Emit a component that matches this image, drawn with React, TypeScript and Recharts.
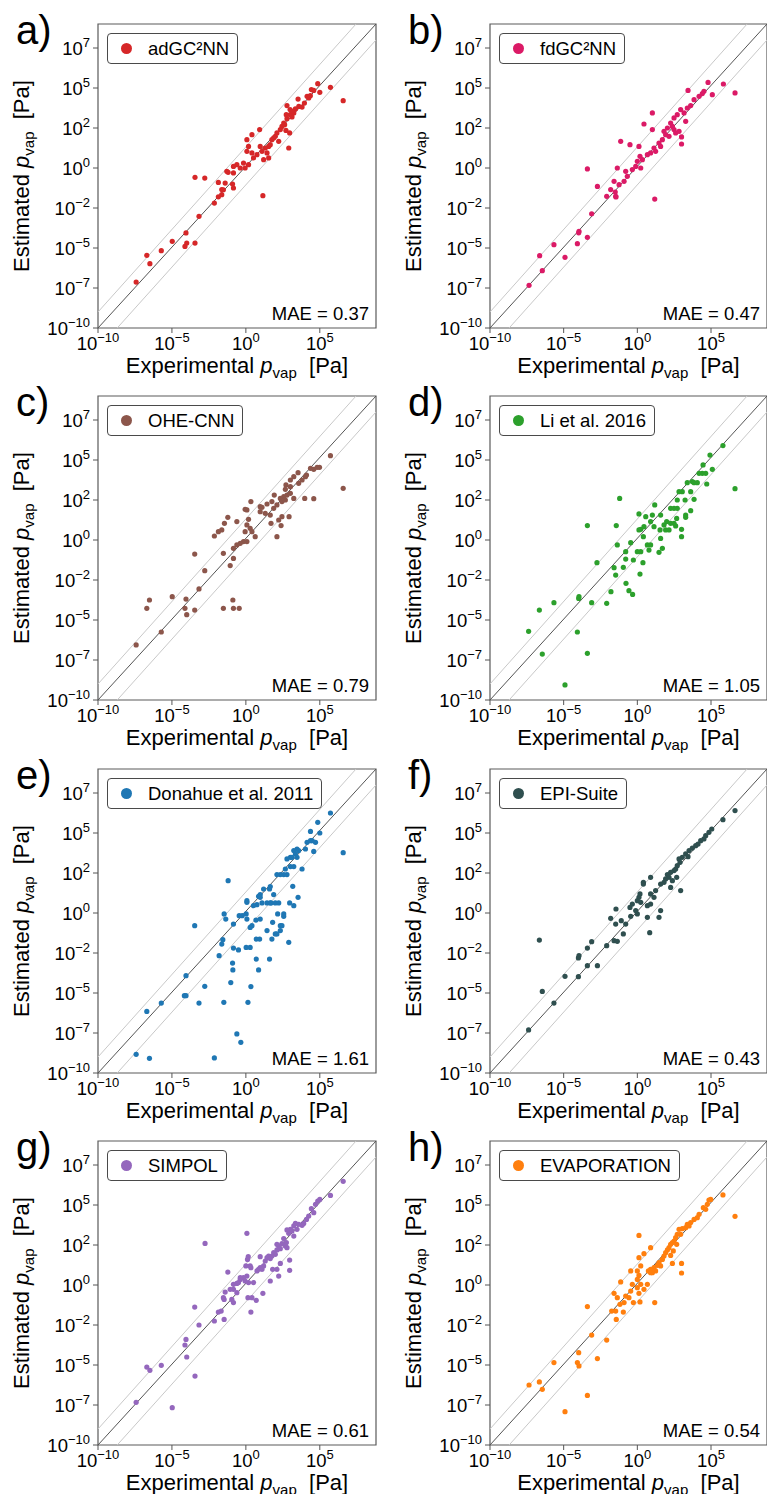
import React from 'react';
import { ScatterChart, Scatter, XAxis, YAxis, ReferenceLine, ReferenceArea } from 'recharts';

type Pair = [number, number];

const FONT = '"Liberation Sans", Arial, Helvetica, sans-serif';

// axes are in log10(p / Pa)
const xDomain = [-10, 8.8];
const yDomain = [-10, 9];
const xTicks = [-10, -5, 0, 5];
const yTicks = [-10, -7.5, -5, -2.5, 0, 2.5, 5, 7.5];

// parity line and the two grey band lines, as [x, y] end points
const parityLine: Pair[] = [[-10, -10], [8.8, 9]];
const upperBand: Pair[] = [[-10, -9], [7.45, 9]];
const lowerBand: Pair[] = [[-8.7, -10], [8.8, 8]];

const panelLetters = ['a)', 'b)', 'c)', 'd)', 'e)', 'f)', 'g)', 'h)'];
const modelNames = ['adGC²NN', 'fdGC²NN', 'OHE-CNN', 'Li et al. 2016', 'Donahue et al. 2011', 'EPI-Suite', 'SIMPOL', 'EVAPORATION'];
const modelColors = ['#d62728', '#db1a66', '#8c564b', '#2ca02c', '#1f77b4', '#2f4f4f', '#9467bd', '#ff7f0e'];
const maeValues = ['0.37', '0.47', '0.79', '1.05', '1.61', '0.43', '0.61', '0.54'];

const adgcnnPoints: Pair[] = [
  [4.86, 5.27], [5.72, 5.04], [6.58, 4.21], [4.43, 4.9], [5.0, 4.73], [4.14, 4.48], [4.25, 4.38], [3.53, 4.31],
  [2.78, 3.9], [3.8, 3.81], [3.35, 3.69], [3.24, 3.44], [3.0, 3.33], [3.12, 3.19], [2.78, 3.08], [2.56, 2.81],
  [2.44, 2.6], [2.33, 2.4], [2.1, 2.19], [1.99, 1.98], [1.76, 1.77], [1.88, 1.88], [2.22, 1.67], [1.65, 1.46],
  [1.54, 1.35], [1.31, 1.25], [0.97, 1.35], [0.93, 2.4], [0.41, 2.08], [0.07, 1.77], [0.18, 1.35], [0.07, 1.04],
  [0.41, 0.94], [0.75, 0.83], [1.09, 1.04], [1.43, 0.94], [0.52, 0.63], [0.18, 0.21], [-0.16, 0.31], [-0.61, 0.21],
  [-0.38, 0], [-0.05, 0], [-0.84, 0.1], [-1.29, -0.21], [-0.84, -0.31], [1.2, 0.52], [1.54, 0.63], [2.96, 2.19],
  [2.9, 1.25], [2.71, 2.35], [2.62, 2.71], [2.99, 3.65], [2.73, 3.33], [3.12, 3.54], [3.58, 3.85], [3.96, 4.06],
  [4.36, 4.52], [4.59, 4.85], [-3.44, -0.58], [-2.78, -0.63], [-1.2, -0.27], [-1.86, -0.9], [-1.63, -1.35],
  [-0.9, -1.0], [-0.84, -1.25], [-1.4, -0.94], [-1.52, -1.36], [1.15, -1.73], [-1.63, -1.67], [-1.86, -1.8],
  [-2.13, -2.19], [-3.17, -3.02], [-4.05, -4.06], [-4.98, -4.58], [-4.0, -4.69], [-4.12, -4.9], [-3.44, -4.69],
  [-5.72, -5.17], [-6.7, -5.46], [-6.49, -5.98], [-7.42, -7.13],
];

const fdgcnnPoints: Pair[] = [
  [4.8, 5.35], [5.84, 5.25], [6.63, 4.69], [3.44, 4.85], [4.52, 4.79], [5.09, 4.58], [4.19, 4.48], [4.41, 4.65],
  [3.85, 4.27], [3.62, 3.9], [3.39, 3.75], [2.94, 3.65], [3.17, 3.44], [2.71, 3.33], [3.28, 2.92], [2.49, 3.13],
  [2.26, 2.81], [2.38, 2.6], [2.04, 2.5], [1.81, 2.29], [1.92, 2.08], [2.15, 1.98], [1.7, 1.77], [1.47, 1.56],
  [1.58, 1.35], [1.13, 1.25], [1.24, 1.04], [0.9, 0.94], [1.02, 2.4], [0.45, 2.75], [1.02, 3.44], [3.0, 1.94],
  [3.0, 1.5], [2.49, 2.4], [2.6, 2.19], [2.83, 2.29], [0.68, 0.83], [0.11, 1.35], [-0.5, 1.46], [-1.13, 1.67],
  [0.18, 0.73], [0.34, 0.52], [0, 0.42], [-0.11, 0.1], [0.23, 0], [-0.34, -0.1], [-0.79, -0.21], [-1.36, 0],
  [-0.68, -0.52], [-0.9, -0.83], [-1.58, -0.83], [-1.24, -1.04], [-3.39, -0.06], [-2.71, -1.15], [-1.81, -1.35],
  [-2.08, -1.77], [-1.47, -1.77], [1.18, -1.94], [-1.5, -1.5], [-1.45, -1.81], [-3.1, -2.86], [-3.96, -3.96],
  [-3.98, -4.05], [-3.39, -4.33], [-4.07, -4.73], [-5.66, -4.79], [-4.91, -5.58], [-6.63, -5.48], [-6.45, -6.42],
  [-7.35, -7.33],
];

const ohecnnPoints: Pair[] = [
  [5.72, 5.27], [6.58, 3.23], [4.98, 4.54], [4.82, 4.54], [4.59, 4.42], [4.37, 4.48], [4.1, 4.06], [4.03, 3.96],
  [3.53, 4.21], [3.01, 3.75], [3.24, 3.96], [3.8, 3.75], [3.57, 3.54], [2.71, 3.44], [2.67, 3.17], [3.01, 3.33],
  [2.78, 2.81], [2.56, 2.71], [2.33, 2.6], [2.44, 2.4], [2.67, 2.5], [3.24, 2.6], [3.01, 2.92], [3.98, 2.6],
  [4.59, 2.58], [1.92, 2.81], [1.76, 2.4], [2.1, 2.19], [1.88, 1.98], [1.43, 2.25], [1.09, 2.04], [0.97, 1.77],
  [1.31, 1.67], [1.65, 1.56], [1.7, 1.04], [2.22, 1.25], [2.44, 1.46], [2.38, 0.9], [2.1, 0.21], [2.92, 1.46],
  [0.97, 2.08], [0.34, 2.4], [0.07, 1.88], [-0.05, 1.92], [0.18, 1.29], [0.07, 0.94], [0.29, 0.73], [0.41, 0.52],
  [0.63, 0.21], [-0.05, 0.52], [0.07, -0.1], [-0.16, -0.1], [-0.38, -0.21], [-0.61, -0.31], [-0.84, -0.52],
  [-0.61, 1.15], [-1.22, 1.42], [-1.45, 1.04], [-1.63, 0.63], [-1.86, 0.52], [-2.13, 0.25], [-1.52, -0.83],
  [-1.06, -1.6], [-0.84, -1.15], [-3.46, -0.88], [-2.78, -1.92], [-3.17, -3.06], [-4.05, -3.69], [-4.98, -3.54],
  [-4.12, -4.27], [-3.46, -4.38], [-4.0, -4.67], [-6.52, -3.75], [-6.7, -4.27], [-1.52, -4.27], [-0.88, -3.75],
  [-0.84, -4.27], [-0.45, -4.27], [-5.72, -5.75], [-7.42, -6.56],
];

const liPoints: Pair[] = [
  [5.81, 5.9], [4.93, 5.31], [4.46, 4.69], [5.09, 4.42], [6.63, 3.21], [4.19, 4.17], [4.41, 4.17], [4.64, 4.17],
  [4.71, 3.5], [3.73, 3.65], [3.39, 3.58], [3.85, 3.58], [4.07, 3.58], [3.62, 3.02], [3.05, 3.02], [2.83, 3.02],
  [3.24, 2.5], [2.71, 2.5], [3.85, 2.54], [2.26, 1.98], [2.49, 1.98], [2.71, 1.98], [3.62, 1.83], [3.28, 1.56],
  [3.28, 1.42], [2.67, 1.35], [2.49, 1.04], [2.6, 0.88], [2.26, 1.04], [1.99, 1.15], [1.81, 0.94], [1.58, 1.56],
  [1.18, 2.19], [1.02, 1.56], [0.9, 1.15], [0.57, 1.46], [0.11, 1.63], [0.11, 0.63], [0.23, 0.67], [0.41, 0.21],
  [0.45, 0.83], [1.13, 0.83], [1.54, 0.63], [1.92, 0.63], [2.15, 0.63], [3.0, 0.67], [3.0, 0.21], [0.68, -0.31],
  [0.9, -0.31], [0.79, -0.63], [1.47, -0.77], [1.7, -0.52], [1.58, 0.1], [0.23, -0.73], [0, -0.73], [-0.45, -0.17],
  [-0.79, -0.73], [-0.27, -1.25], [-1.36, -0.31], [-0.79, -1.19], [0.38, -1.42], [0.18, -2.13], [-0.95, -1.71],
  [-1.43, 0.9], [-1.58, -1.73], [-1.47, -2.19], [-1.2, 2.6], [-3.39, 0.9], [-2.74, -1.42], [-0.77, -2.71],
  [-0.57, -3.17], [-0.32, -3.4], [-1.79, -3.23], [-2.08, -3.96], [-3.96, -3.54], [-3.98, -3.65], [-3.1, -3.92],
  [-5.66, -3.92], [-6.65, -4.38], [-4.07, -5.75], [-7.38, -5.71], [-6.45, -7.13], [-3.39, -7.08], [-4.91, -9.06],
];

const donahuePoints: Pair[] = [
  [5.72, 6.25], [4.86, 5.67], [5.0, 5.0], [4.37, 5.1], [6.58, 3.77], [4.14, 4.42], [4.37, 4.52], [4.48, 4.52],
  [4.71, 4.42], [4.59, 3.85], [4.03, 4.0], [3.46, 4.0], [3.57, 3.9], [3.24, 3.9], [3.35, 3.69], [3.01, 3.48],
  [2.78, 3.38], [3.12, 3.48], [3.46, 3.48], [3.01, 2.9], [3.24, 2.9], [3.8, 2.75], [2.67, 2.75], [2.33, 2.4],
  [2.1, 2.4], [2.78, 2.4], [2.56, 2.4], [3.17, 1.67], [3.53, 0.98], [3.24, 0.46], [2.96, 0.63], [2.9, -1.83],
  [1.65, 1.65], [1.6, 1.5], [1.2, 1.5], [0.97, 1.15], [0.86, 1.04], [0.97, 0.98], [1.09, 0.63], [1.43, 0.63],
  [1.65, 0.63], [1.88, 1.15], [1.99, 0.63], [2.22, 0.63], [1.7, 0.63], [2.15, -0.06], [2.33, -0.79], [2.44, -0.79],
  [2.56, -0.06], [2.56, -0.21], [2.33, -1.1], [1.99, -1.31], [2.1, -1.31], [1.76, -1.63], [1.6, -2.88],
  [1.81, -0.58], [1.43, -1.1], [0.97, -0.38], [0.75, 0.52], [0.52, 0.46], [0.07, 0.77], [0.07, 0.67],
  [0.02, -0.06], [0.07, -0.38], [0.29, -0.9], [0.41, -0.79], [0.68, -0.44], [0.7, -1.63], [0.29, -2.15],
  [0.02, -2.15], [0.93, -1.63], [0.7, -2.88], [0.86, -3.56], [0.34, -4.6], [0.14, -5.58], [-0.45, -0.17],
  [-0.25, -0.17], [-0.84, -0.69], [-1.47, -0.06], [-1.36, -0.38], [-1.63, -1.94], [-1.56, -1.67], [-1.81, -2.67],
  [-0.84, -2.19], [-0.5, -2.31], [-0.9, -3.13], [-0.88, -3.56], [-1.02, -4.35], [-1.2, 2.02], [-3.46, -0.79],
  [-4.05, -3.92], [-4.16, -5.17], [-4.05, -5.17], [-2.78, -4.58], [-3.17, -5.63], [-1.49, -5.58], [-0.61, -7.56],
  [-0.34, -8.08], [-2.13, -9.06], [-5.72, -5.63], [-6.7, -6.15], [-7.42, -8.83], [-6.52, -9.08],
];

const epiPoints: Pair[] = [
  [6.63, 6.4], [5.81, 5.83], [5.05, 5.25], [4.86, 5.04], [4.64, 4.83], [4.52, 4.63], [4.3, 4.52], [4.12, 4.31],
  [3.96, 4.21], [3.73, 4.06], [3.51, 3.9], [3.28, 3.69], [3.44, 3.52], [3.05, 3.48], [2.83, 3.38], [2.9, 3.17],
  [2.71, 2.96], [2.6, 2.75], [2.49, 2.65], [2.26, 2.54], [2.04, 2.4], [2.15, 2.23], [1.92, 2.13], [1.81, 1.92],
  [1.58, 1.81], [2.38, 2.02], [2.26, 1.6], [2.94, 1.4], [2.67, 2.23], [0.9, 2.23], [0.41, 1.92], [0.41, 1.81],
  [0.9, 1.19], [1.24, 1.4], [1.13, 0.98], [0.18, 1.19], [0.11, 0.98], [0, 0.77], [0.23, 0.67], [-0.34, 0.56],
  [-0.5, 0.35], [-0.11, 0.15], [0, -0.06], [0.68, 0.46], [0.9, 0.56], [1.58, 0.15], [1.47, -0.27], [0.68, -0.27],
  [-0.45, -0.21], [-0.79, -0.69], [-1.09, -0.48], [-1.45, 0.25], [-1.47, -0.69], [-1.81, -0.33], [-0.95, -1.31],
  [0.84, -1.23], [-1.58, -1.73], [-1.36, -1.77], [-2.08, -2.04], [-3.1, -1.79], [-3.39, -2.19], [-4.0, -2.81],
  [-3.96, -2.67], [-3.39, -3.29], [-2.71, -3.29], [-4.91, -3.96], [-4.0, -3.98], [-6.65, -1.69], [-6.45, -4.9],
  [-5.66, -5.63], [-7.38, -7.31],
];

const simpolPoints: Pair[] = [
  [6.58, 6.48], [5.72, 5.6], [5.0, 5.35], [4.86, 5.25], [4.71, 5.04], [4.43, 4.77], [4.59, 4.52], [4.25, 4.31],
  [4.1, 4.1], [3.91, 3.85], [3.8, 3.73], [3.58, 3.79], [3.35, 3.85], [3.24, 3.69], [3.46, 3.48], [3.12, 3.38],
  [3.01, 3.48], [3.24, 3.06], [2.9, 3.23], [2.78, 3.44], [2.56, 2.9], [2.74, 2.65], [2.44, 2.58], [2.22, 2.44],
  [2.1, 2.54], [2.33, 2.27], [2.1, 2.19], [2.67, 2.44], [2.78, 2.33], [1.88, 2.02], [1.99, 1.92], [1.76, 1.81],
  [1.54, 1.81], [1.43, 1.71], [1.65, 1.65], [0.97, 1.77], [1.31, 1.5], [1.2, 1.19], [0.97, 1.08], [0.86, 0.98],
  [1.09, 0.98], [0.75, 0.88], [2.33, 1.35], [2.96, 1.56], [2.96, 0.92], [1.81, 0.98], [2.1, 0.98], [2.22, 0.56],
  [1.65, 0.25], [1.15, -0.52], [0.52, 0.15], [0.07, 0.56], [-0.16, 0.46], [0.18, 0.15], [-0.05, 0.25],
  [-0.38, 0.35], [-0.5, 0.15], [-0.38, 0.46], [-0.61, 0.1], [-0.84, 0.04], [-0.84, -0.27], [-0.61, -0.48],
  [-1.06, -0.27], [-1.4, -0.44], [-1.22, 0.81], [0.14, -0.79], [0.41, -0.79], [0.7, -0.96], [0.34, -1.69],
  [-0.84, -1.1], [-0.95, -0.9], [-1.52, -0.79], [-1.47, -0.9], [-1.67, -1.63], [-1.86, -1.69], [-2.13, -2.25],
  [-1.47, -2.15], [0.07, 3.23], [0, 1.19], [0.16, 1.77], [0.11, 1.6], [0.29, 1.19], [0.34, 1.08], [-2.76, 2.6],
  [-3.46, -1.38], [-3.17, -2.5], [-4.05, -3.4], [-4.12, -3.75], [-4.0, -4.5], [-3.44, -5.69], [-5.72, -5.02],
  [-6.7, -5.13], [-6.49, -5.33], [-7.42, -7.33], [-4.98, -7.67],
];

const evaporationPoints: Pair[] = [
  [5.81, 5.63], [4.98, 5.35], [4.86, 5.31], [6.63, 4.29], [4.75, 5.04], [4.48, 4.83], [4.64, 4.73], [4.19, 4.42],
  [4.07, 4.21], [3.85, 4.1], [3.62, 3.9], [3.39, 3.79], [3.28, 3.58], [3.51, 3.69], [3.05, 3.52], [2.83, 3.48],
  [2.94, 3.17], [2.71, 3.17], [2.6, 2.96], [2.49, 2.75], [2.38, 2.65], [2.26, 2.54], [2.15, 2.33], [2.04, 2.19],
  [2.67, 2.54], [2.44, 2.13], [2.26, 1.85], [1.92, 2.02], [1.81, 1.81], [1.7, 1.6], [1.47, 1.4], [1.58, 1.19],
  [1.36, 1.23], [1.13, 1.08], [1.24, 0.88], [0.9, 0.98], [0.75, 0.88], [1.02, 0.77], [0.9, 0.77], [3.0, 1.35],
  [3.0, 0.75], [2.38, 1.35], [1.18, -1.1], [0.9, 2.33], [0.45, 1.96], [0.11, 1.71], [0.11, 3.1], [0.23, 1.19],
  [0, 0.88], [-0.45, 0.88], [0.11, 0.6], [0, 0.35], [-0.34, 0.04], [0.23, 0.04], [0.68, 0.04], [0.45, -0.27],
  [0, -0.17], [-0.45, -0.38], [-0.57, -0.79], [0.11, -0.52], [0.18, -1.06], [-0.27, -1.1], [-0.79, -0.69],
  [-0.9, -1.1], [-1.36, -0.79], [-1.58, -0.52], [-1.13, 0.19], [-1.18, -1.21], [-1.43, -2.15], [-1.47, -1.63],
  [-1.74, -1.63], [-0.95, -1.69], [-3.39, -1.35], [-3.1, -3.13], [-2.08, -3.44], [-3.98, -4.23], [-4.07, -4.85],
  [-3.96, -5.06], [-2.71, -4.6], [-5.66, -4.85], [-6.65, -6.06], [-7.35, -6.25], [-6.45, -6.52], [-3.39, -6.9],
  [-4.91, -7.92],
];

const panelPoints = [adgcnnPoints, fdgcnnPoints, ohecnnPoints, liPoints, donahuePoints, epiPoints, simpolPoints, evaporationPoints];

const CHART_H = 373;
const TOP = 24;
const LEFT = 98;
const PLOT_H = 304;

function expText(v: number) {
  const e = Math.trunc(v);
  return e < 0 ? `\u2212${-e}` : `${e === 0 ? 0 : e}`;
}

function YTick(props: any) {
  const { x, y, payload } = props;
  return (
    <text x={x} y={y} dy={6.5} textAnchor="end" fontFamily={FONT} fontSize={18.5} fill="#000">
      10<tspan dy={-7.5} fontSize={13}>{expText(payload.value)}</tspan>
    </text>
  );
}

function XTick(props: any) {
  const { x, y, payload } = props;
  return (
    <text x={x} y={y} dy={13.5} textAnchor="middle" fontFamily={FONT} fontSize={18.5} fill="#000">
      10<tspan dy={-7.5} fontSize={13}>{expText(payload.value)}</tspan>
    </text>
  );
}

const toSeg = (p: Pair[]) => p.map(([x, y]) => ({ x, y }));

function Panel({ idx }: { idx: number }) {
  const col = idx % 2;
  const row = Math.floor(idx / 2);
  const left = col === 0 ? 0 : 392;
  const top = row * 372.3;
  const width = col === 0 ? 383 : 375;
  const plotW = width - LEFT - (col === 0 ? 7 : 0);
  const color = modelColors[idx];
  const data = panelPoints[idx].map(([x, y]) => ({ x, y }));
  const cx = LEFT + plotW / 2;

  return (
    <div style={{ position: 'absolute', left, top: Math.round(top), width, height: CHART_H }}>
      <ScatterChart width={width} height={CHART_H} margin={{ top: TOP, right: col === 0 ? 7 : 0, bottom: 0, left: 38 }}>
        <XAxis
          type="number"
          dataKey="x"
          domain={xDomain}
          ticks={xTicks}
          interval={0}
          allowDataOverflow
          height={45}
          axisLine={false}
          tickLine={{ stroke: '#555' }}
          tickSize={5}
          tickMargin={3}
          tick={<XTick />}
        />
        <YAxis
          type="number"
          dataKey="y"
          domain={yDomain}
          ticks={yTicks}
          interval={0}
          allowDataOverflow
          width={60}
          axisLine={false}
          tickLine={{ stroke: '#555' }}
          tickSize={5}
          tickMargin={3}
          tick={<YTick />}
        />
        <ReferenceLine segment={toSeg(upperBand)} stroke="#c8c8c8" strokeWidth={1} ifOverflow="visible" />
        <ReferenceLine segment={toSeg(lowerBand)} stroke="#c8c8c8" strokeWidth={1} ifOverflow="visible" />
        <ReferenceLine segment={toSeg(parityLine)} stroke="#555" strokeWidth={1} ifOverflow="visible" />
        <Scatter
          data={data}
          isAnimationActive={false}
          fill={color}
          shape={(p: any) => <circle cx={p.cx} cy={p.cy} r={2.6} fill={color} />}
        />
        <ReferenceArea x1={xDomain[0]} x2={xDomain[1]} y1={yDomain[0]} y2={yDomain[1]} fill="none" stroke="#5a5a5a" strokeWidth={1.2} ifOverflow="visible" />
      </ScatterChart>

      <svg width={width} height={CHART_H} style={{ position: 'absolute', left: 0, top: 0, overflow: 'visible', pointerEvents: 'none' }}>
        <text x={16} y={44} fontFamily={FONT} fontSize={40} fill="#000">{panelLetters[idx]}</text>
        <text transform={`translate(29, ${TOP + PLOT_H / 2}) rotate(-90)`} textAnchor="middle" fontFamily={FONT} fontSize={22} fill="#000">
          Estimated{'\u00a0'}<tspan fontStyle="italic">p</tspan>
          <tspan fontSize={15} dy={5}>vap</tspan>
          <tspan dy={-5}>{'\u00a0\u00a0'}[Pa]</tspan>
        </text>
        <text x={cx} y={TOP + PLOT_H + 45} textAnchor="middle" fontFamily={FONT} fontSize={22} fill="#000">
          Experimental{'\u00a0'}<tspan fontStyle="italic">p</tspan>
          <tspan fontSize={15} dy={5}>vap</tspan>
          <tspan dy={-5}>{'\u00a0\u00a0'}[Pa]</tspan>
        </text>
        <text x={LEFT + plotW - 7} y={TOP + PLOT_H - 8} textAnchor="end" fontFamily={FONT} fontSize={18.5} fill="#000">
          MAE = {maeValues[idx]}
        </text>
      </svg>

      <div
        style={{
          position: 'absolute',
          left: LEFT + 9,
          top: TOP + 9,
          height: 29,
          border: '1px solid #4a4a4a',
          borderRadius: 4,
          background: '#fff',
          display: 'flex',
          alignItems: 'center',
          paddingLeft: 13,
          paddingRight: 8,
          fontFamily: FONT,
          fontSize: 18.5,
          color: '#000',
          whiteSpace: 'nowrap',
        }}
      >
        <span style={{ width: 11, height: 11, borderRadius: '50%', background: color, display: 'inline-block', marginRight: 16 }} />
        <span>{modelNames[idx]}</span>
      </div>
    </div>
  );
}

export default function App() {
  return (
    <div style={{ position: 'absolute', left: 0, top: 0, width: 767, height: 1494, background: '#fff', overflow: 'hidden' }}>
      {panelLetters.map((_, i) => (
        <Panel key={i} idx={i} />
      ))}
    </div>
  );
}
